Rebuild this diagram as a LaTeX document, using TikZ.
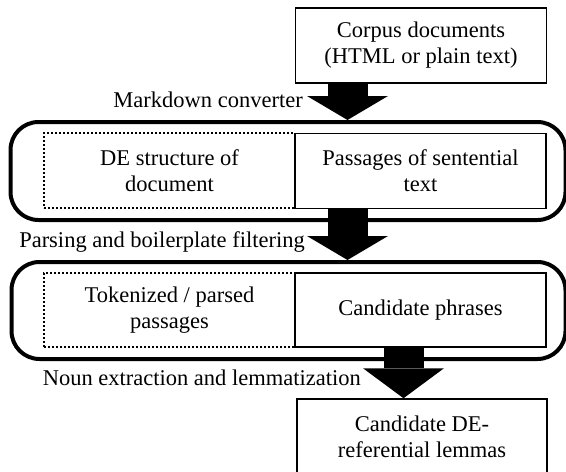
\documentclass[tikz,border=0pt]{standalone}
\usepackage{fontspec}
\setmainfont{Liberation Serif}
\usetikzlibrary{arrows.meta}
\tikzset{
    stage/.style={draw, line width=1.5pt, minimum width=251pt, minimum height=75pt, align=center, inner sep=0pt},
    aside/.style={stage, line width=2pt, dash pattern=on 2pt off 2pt},
    group/.style={draw, line width=4pt, rounded corners=28pt},
    lbl/.style={anchor=base east, inner sep=0pt},
    bigarrow/.style={line width=40pt, -{Triangle[width=81pt, length=#1, line width=0pt]}},
    bigarrow/.default=24pt
}
\begin{document}
\begin{tikzpicture}[x=1pt, y=-1pt, font=\fontsize{22.5}{26}\selectfont]
            \useasboundingbox (0,0) rectangle (566,472);
            % input
            \node[stage] (corpus) at (421,45.5) {Corpus documents\\(HTML or plain text)};
            % first group
            \node[group, minimum width=555pt, minimum height=98pt] (grp1) at (288,171) {};
            \node[aside] (struct) at (169.5,170.5) {DE structure of\\document};
            \node[stage] (passages) at (420.5,171) {Passages of sentential\\text};
            % second group
            \node[group, minimum width=554pt, minimum height=97pt] (grp2) at (288.5,310.5) {};
            \node[aside, minimum height=74pt] (tokens) at (169.5,310) {Tokenized / parsed\\passages};
            \node[stage, minimum height=74pt] (phrases) at (420.5,310) {Candidate phrases};
            % output
            \node[stage, minimum width=250pt] (lemmas) at (422,436.5) {Candidate DE-\\referential lemmas};
            % steps
            \draw[bigarrow] ([xshift=-73.5pt]corpus.south) -- ([xshift=-73.5pt]corpus.south |- grp1.north);
            \draw[bigarrow] ([xshift=-73pt]passages.south) -- ([xshift=-73pt]passages.south |- grp2.north);
            \draw[bigarrow=30pt] ([xshift=-17pt]phrases.south) -- ([xshift=-17pt]phrases.south |- lemmas.north);
            \node[lbl] (convert) at (303,107) {Markdown converter};
            \node[lbl] (parse) at (305,247) {Parsing and boilerplate filtering};
            \node[lbl] (extract) at (361,385) {Noun extraction and lemmatization};
        \end{tikzpicture}
\end{document}
